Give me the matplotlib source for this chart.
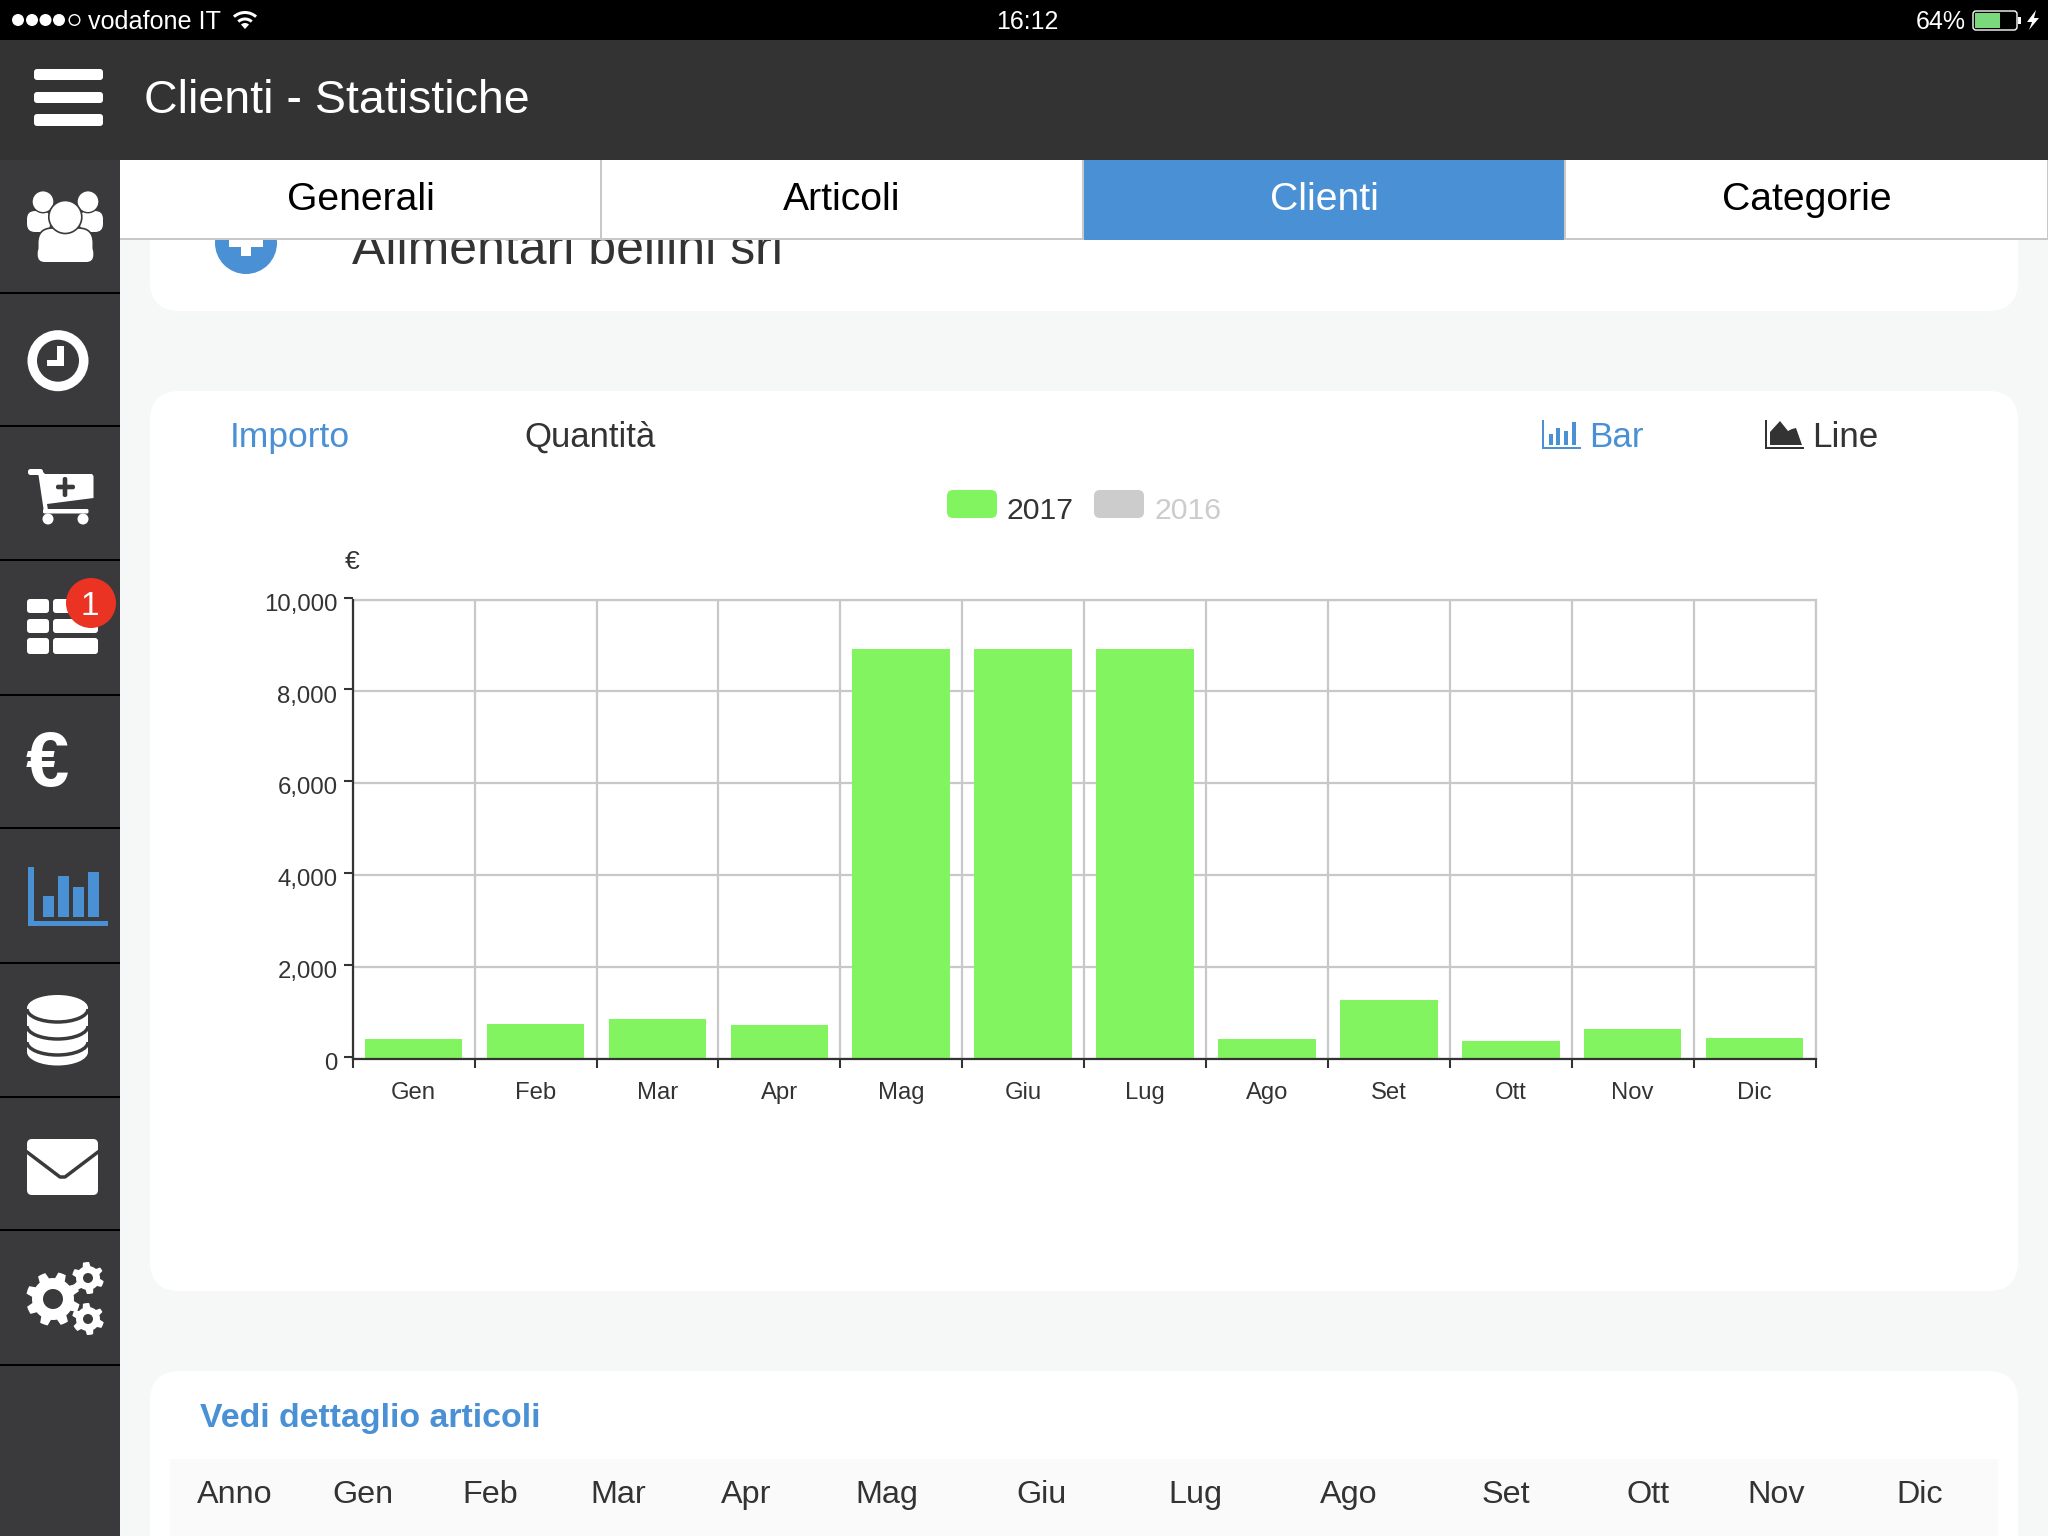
import numpy as np
import matplotlib
matplotlib.use('Agg')
import matplotlib.pyplot as plt
from matplotlib.patches import Rectangle, FancyBboxPatch, Circle, Ellipse, Polygon, Wedge, Arc
from matplotlib.transforms import ScaledTranslation

plt.rcParams['font.family'] = ['Liberation Sans', 'DejaVu Sans']

months = ['Gen', 'Feb', 'Mar', 'Apr', 'Mag', 'Giu', 'Lug', 'Ago', 'Set', 'Ott', 'Nov', 'Dic']
values_2017 = [418, 749, 856, 730, 8920, 8920, 8920, 418, 1274, 390, 642, 438]
y_ticks = [0, 2000, 4000, 6000, 8000, 10000]
tab_labels = ['Generali', 'Articoli', 'Clienti', 'Categorie']
table_headers = ['Anno'] + months
table_x = [235, 363, 490, 618, 746, 887, 1041, 1195, 1349, 1506, 1648, 1776, 1920]

W, H = 2048, 1536
BLUE = '#4a90d4'
GREEN = '#82f45f'
DARK = '#333333'
SIDE = '#3a3a3c'
GRID = '#c8c8c8'

fig = plt.figure(figsize=(W / 100, H / 100), dpi=100, facecolor='#f6f8f7')

# whole page in pixel coordinates, y going down
ui = fig.add_axes([0, 0, 1, 1])
ui.set_xlim(0, W)
ui.set_ylim(H, 0)
ui.axis('off')


def rect(x0, y0, x1, y1, color, z=1):
    ui.add_patch(Rectangle((x0, y0), x1 - x0, y1 - y0, fc=color, ec='none', zorder=z))


def rrect(x0, y0, x1, y1, r, color, z=1, edge='none', lw=0):
    ui.add_patch(FancyBboxPatch((x0, y0), x1 - x0, y1 - y0, boxstyle=f'round,pad=0,rounding_size={r}',
                                fc=color, ec=edge, lw=lw, zorder=z))


def label(x, y, s, size, color=DARK, ha='left', weight='normal', z=5):
    ui.text(x, y, s, fontsize=size, color=color, ha=ha, va='baseline', fontweight=weight, zorder=z)


def gear(cx, cy, r_out, r_in, r_hole, teeth, z=6):
    ang = np.linspace(0, 2 * np.pi, teeth * 8, endpoint=False)
    rad = np.where((ang * teeth / (2 * np.pi)) % 1 < 0.45, r_out, r_in)
    ui.add_patch(Polygon(np.c_[cx + rad * np.cos(ang + 0.2), cy + rad * np.sin(ang + 0.2)], fc='white', ec='none', zorder=z))
    ui.add_patch(Circle((cx, cy), r_hole, fc=SIDE, ec='none', zorder=z + 1))


# cards
rrect(150, 190, 2018, 311, 30, 'white')
rrect(150, 391, 2018, 1291, 30, 'white')
rrect(150, 1371, 2018, 1600, 30, 'white')
rect(170, 1459, 1998, H, '#fafafa', 2)

# card scrolled under the tabs
ui.add_patch(Circle((246, 243), 31, fc=BLUE, ec='none', zorder=2))
rect(241, 225, 251, 256, 'white', 3)
rect(229, 236, 263, 247, 'white', 3)
label(352, 264, 'Alimentari bellini srl', 36, z=3)

# status bar
rect(0, 0, W, 40, 'black', 10)
for x in [18, 32, 45.5, 59]:
    ui.add_patch(Circle((x, 20), 6, fc='white', ec='none', zorder=11))
ui.add_patch(Circle((74.5, 20), 5.3, fc='black', ec='white', lw=1, zorder=11))
label(88, 29, 'vodafone IT', 18.1, color='white', z=11)
for r in [18, 11.5]:
    ui.add_patch(Wedge((245, 29), r, 228, 312, width=3, fc='white', ec='none', zorder=11))
ui.add_patch(Wedge((245, 29), 6, 228, 312, fc='white', ec='none', zorder=11))
label(1027, 29, '16:12', 18, color='white', ha='center', z=11)
label(1966, 29, '64%', 18, color='white', ha='right', z=11)
ui.add_patch(FancyBboxPatch((1973, 11), 44, 19, boxstyle='round,pad=0,rounding_size=3', fc='black', ec='white', lw=1, zorder=11))
rect(1975, 13, 2000, 28, '#7ad97a', 12)
rect(2018, 17, 2021, 24, 'white', 11)
ui.add_patch(Polygon([[2036, 10], [2027, 22], [2032, 22], [2029, 30], [2039, 18], [2034, 18]], fc='white', ec='none', zorder=11))

# header
rect(0, 40, W, 160, DARK, 10)
for y0, y1 in [(69, 80), (92, 103), (114, 126)]:
    rrect(34, y0, 103, y1, 3, 'white', 11)
label(144, 113, 'Clienti - Statistiche', 33.5, color='white', z=11)

# tabs
tab_edges = [120, 601, 1083, 1565, W]
for i, name in enumerate(tab_labels):
    active = name == 'Clienti'
    rect(tab_edges[i], 160, tab_edges[i + 1], 240, BLUE if active else 'white', 10)
    label((tab_edges[i] + tab_edges[i + 1]) / 2, 210, name, 28.2, color='white' if active else 'black', ha='center', z=11)
rect(120, 238, 1083, 240, GRID, 11)
rect(1564, 238, W, 240, GRID, 11)
for x in tab_edges[1:]:
    rect(x - 1, 160, x + 1, 240, GRID, 11)

# sidebar
rect(0, 160, 120, H, SIDE, 10)
for y in [292.5, 426, 560, 695, 828, 962.5, 1097, 1230, 1365]:
    rect(0, y - 1, 120, y + 1, 'black', 11)

# people icon
rrect(27, 211, 50, 232, 8, 'white', 11)
rrect(80, 211, 103, 232, 8, 'white', 11)
for cx in [43, 88]:
    ui.add_patch(Circle((cx, 201.7), 11, fc='white', ec=SIDE, lw=1, zorder=12))
rrect(37.7, 228, 93.3, 262, 15, 'white', 13, edge=SIDE, lw=1.2)
rrect(37.7, 246, 93.3, 262, 7, 'white', 14)
ui.add_patch(Circle((65.3, 217), 16.5, fc='white', ec=SIDE, lw=1.2, zorder=15))

# clock
ui.add_patch(Circle((58, 360.7), 30.5, fc='white', ec='none', zorder=11))
ui.add_patch(Circle((58, 360.7), 21, fc=SIDE, ec='none', zorder=12))
rect(57, 346, 63.5, 365.7, 'white', 13)
rect(47, 360, 63.5, 365.7, 'white', 13)

# cart
rrect(28, 469, 43, 475, 2.5, 'white', 11)
ui.add_patch(Polygon([[38, 472], [43, 472], [45, 474], [92, 474], [93.5, 476], [93.5, 498], [47, 504], [48, 510], [44, 512]],
                     fc='white', ec='none', zorder=11))
rrect(43, 509, 88.5, 513.5, 1.5, 'white', 11)
ui.add_patch(Circle((48, 519), 5.5, fc='white', ec='none', zorder=11))
ui.add_patch(Circle((83, 519), 5.5, fc='white', ec='none', zorder=11))
rrect(62.7, 477, 67.3, 497, 2, SIDE, 12)
rrect(56, 484.7, 75, 489.3, 2, SIDE, 12)

# agenda with badge
for y0, y1 in [(599, 613), (619, 633), (638, 654)]:
    rrect(27, y0, 49, y1, 3, 'white', 11)
    rrect(53, y0, 98, y1, 3, 'white', 11)
ui.add_patch(Circle((91, 603), 25, fc='#eb3323', ec='none', zorder=12))
ui.text(90, 615, '1', fontsize=24, color='white', ha='center', va='baseline', zorder=13)

# euro
ui.text(47, 786, '€', fontsize=56, color='white', ha='center', va='baseline', fontweight='bold', zorder=11)

# chart icon
rect(28, 867, 33.5, 926, BLUE, 11)
rect(28, 921, 108, 926, BLUE, 11)
for x0, top in [(42.5, 896), (57.5, 876), (73, 886.5), (87.5, 871.5)]:
    rect(x0, top, x0 + 11, 917, BLUE, 11)

# database
ui.add_patch(Ellipse((57.5, 1008), 61, 26, fc='white', ec='none', zorder=11))
ui.add_patch(Ellipse((57.5, 1052), 61, 27, fc='white', ec='none', zorder=11))
rect(27, 1008, 88, 1052, 'white', 11)
for cy in [1009, 1026, 1042]:
    ui.add_patch(Arc((57.5, cy), 61, 26, theta1=0, theta2=180, color=SIDE, lw=2.5, zorder=12))

# mail
rrect(27, 1139, 98, 1195, 5, 'white', 11)
ui.plot([27, 60, 65, 98], [1152, 1177, 1177, 1152], color=SIDE, lw=2.5, zorder=12)

# gears
gear(53, 1299, 27, 21, 10, 8, 11)
gear(88, 1278, 16, 12, 5, 6, 11)
gear(88, 1319, 16, 12, 5, 6, 11)

# chart options row
label(230, 447, 'Importo', 25.5, color=BLUE)
label(524, 447, 'Quantità', 25)
label(1589.5, 447, 'Bar', 25.2, color=BLUE)
label(1812, 447, 'Line', 25.2)
rect(1542, 420, 1544, 449, BLUE)
rect(1542, 447, 1581, 449, BLUE)
for x0, top in [(1549, 434), (1556, 428), (1564, 431), (1572, 422)]:
    rect(x0, top, x0 + 4, 445, BLUE)
rect(1765, 420, 1767, 449, DARK)
rect(1765, 447, 1804, 449, DARK)
ui.add_patch(Polygon([[1770, 445], [1770, 432], [1780, 421], [1788, 431], [1792, 429], [1796, 428], [1802, 445]], fc=DARK, ec='none', zorder=2))

# legend
rrect(947, 490, 997, 518, 6, GREEN)
label(1007, 519, '2017', 21.8)
rrect(1094, 490, 1144, 518, 6, '#cccccc')
label(1154, 519, '2016', 21.8, color='#cccccc')
label(352.5, 569, '€', 19, ha='center')

# table header
label(199.6, 1427, 'Vedi dettaglio articoli', 24.4, color=BLUE, weight='bold')
for x, name in zip(table_x, table_headers):
    label(x, 1503, name, 23.3, ha='center')

# the chart itself
left, right, top, bottom = 352.7, 1815.5, 599.5, 1058.5
ax = fig.add_axes([left / W, 1 - bottom / H, (right - left) / W, (bottom - top) / H], facecolor='none')
x_pos = np.arange(len(months)) + 0.5
ax.bar(x_pos, values_2017, width=0.8, color=GREEN, zorder=3)
ax.set_xlim(0, 12)
ax.set_ylim(0, 10000)
ax.set_yticks(y_ticks)
ax.set_yticklabels([f'{v:,}' for v in y_ticks])
ax.set_xticks(np.arange(13))
ax.set_xticks(x_pos, minor=True)
ax.set_xticklabels([])
ax.set_xticklabels(months, minor=True)
ax.grid(True, which='major', color=GRID, linewidth=1.6)
ax.set_axisbelow(True)
ax.tick_params(axis='y', length=6.5, width=1.5, color=DARK, labelsize=17.3, labelcolor=DARK, pad=4.5)
ax.tick_params(axis='x', which='major', length=6.5, width=1.5, color=DARK)
ax.tick_params(axis='x', which='minor', length=0, labelsize=17.2, labelcolor=DARK, pad=17)
for side in ['top', 'right']:
    ax.spines[side].set_color(GRID)
    ax.spines[side].set_linewidth(1.6)
for side in ['left', 'bottom']:
    ax.spines[side].set_color(DARK)
    ax.spines[side].set_linewidth(1.6)
    ax.spines[side].set_zorder(4)
for lab in ax.get_yticklabels():
    lab.set_transform(lab.get_transform() + ScaledTranslation(0, -2 / 72, fig.dpi_scale_trans))
# y ticks sit a touch above their gridlines
for tick in ax.yaxis.get_major_ticks():
    tick.tick1line.set_transform(tick.tick1line.get_transform() + ScaledTranslation(0, 2 / 100, fig.dpi_scale_trans))

fig.savefig('out.png', dpi=100, facecolor=fig.get_facecolor())
